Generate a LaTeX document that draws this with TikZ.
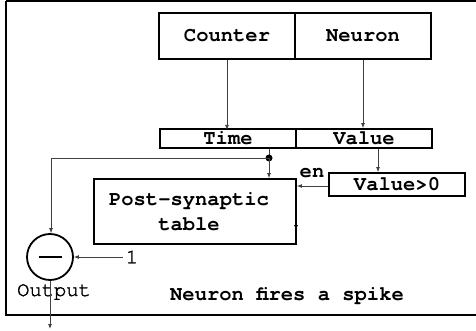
\documentclass[tikz,border=0pt]{standalone}
\usepackage{fontspec}
\setmonofont{TeX Gyre Cursor}
\newfontfamily\medmono{TeX Gyre Cursor}[FakeBold=1.6]
\usetikzlibrary{arrows.meta}
\begin{document}
\begin{tikzpicture}[x=1pt,y=-1pt,
  box/.style={draw, line width=1.8pt, inner sep=0pt, font=\fontsize{20.5}{24}\selectfont\ttfamily\bfseries},
  conn/.style={draw=black!75, line width=0.8pt, -{Latex[length=5pt,width=4pt]}},
  wire/.style={draw=black!75, line width=0.8pt},
  lbl/.style={inner sep=0pt, font=\fontsize{20.5}{24}\selectfont\ttfamily\bfseries},
  lblr/.style={inner sep=0pt, font=\fontsize{20.5}{24}\selectfont\medmono}]
\useasboundingbox (0,0) rectangle (476,331);
% enclosing frame (runs off the right side)
\draw[line width=2pt] (6,1.5) -- (480,1.5) (6,1.5) -- (6,315) -- (480,315);

% registers
\node[box, minimum width=136pt, minimum height=46pt] (counter) at (227,36) {Counter};
\node[box, minimum width=136pt, minimum height=46pt] (neuron) at (363,36) {Neuron};
\node[box, minimum width=136pt, minimum height=19pt] (time) at (228,138.5) {Time};
\node[box, minimum width=136pt, minimum height=19pt] (value) at (364,138.5) {Value};
\node[box, minimum width=136pt, minimum height=23pt] (gt) at (397,184.5) {Value>0};
\node[box, minimum width=202pt, minimum height=65pt] (post) at (195,211.5) {};
\node[lbl, align=center, font=\fontsize{20.5}{25}\selectfont\ttfamily\bfseries] (posttxt) at (189,212) {Post-synaptic\\table};

% subtractor
\node[draw, circle, line width=1.8pt, minimum size=46pt, inner sep=0pt] (sub) at (50,257) {};
\draw[line width=1.8pt] (38.5,257) -- (61.5,257);
\node[lblr] (one) at (132,257) {1};
\node[lblr] (out) at (54,292) {Output};
\node[lbl] (en) at (312,173) {en};
\node[lbl] (fire) at (287,296) {Neuron fires a spike};

\coordinate (dot) at (269,158);
\coordinate (tl) at (51,158);
\coordinate (exit) at (50,329);

% connections
\draw[conn] (counter.south -| time) ++(-1,0) -- ++(0,70);
\draw[conn] (neuron.south) -- (value.north -| neuron);
\draw[wire] (time.south -| dot) -- (dot);
\fill (dot) circle (3.5pt);
\draw[conn] (dot) -- (post.north -| dot);
\draw[conn] (dot) -- (tl) -- (sub.north -| tl);
\draw[conn] (value.south -| 378,0) -- (gt.north -| 378,0);
\draw[conn] (gt.west |- 0,186) -- (post.east |- 0,186);
\draw[conn] (one.west) ++(-3,0) -- (sub.east);
\draw[conn] (sub.south) -- (exit);
\draw[-{Latex[length=5pt,width=4pt]}, line width=0.8pt] (296,222) -- (296,230);
\end{tikzpicture}
\end{document}
